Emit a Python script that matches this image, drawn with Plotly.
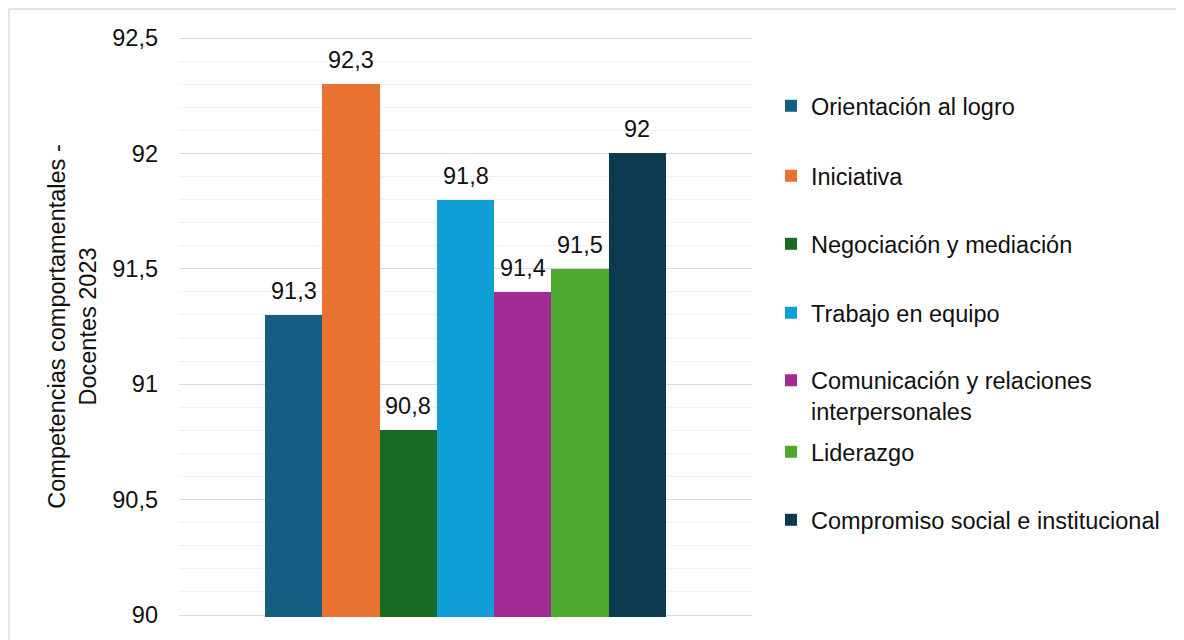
import plotly.graph_objects as go

categorias = [
    "Orientación al logro",
    "Iniciativa",
    "Negociación y mediación",
    "Trabajo en equipo",
    "Comunicación y relaciones interpersonales",
    "Liderazgo",
    "Compromiso social e institucional",
]
leyenda = [
    "Orientación al logro",
    "Iniciativa",
    "Negociación y mediación",
    "Trabajo en equipo",
    "Comunicación y relaciones<br>interpersonales",
    "Liderazgo",
    "Compromiso social e institucional",
]
valores = [91.3, 92.3, 90.8, 91.8, 91.4, 91.5, 92.0]
etiquetas = ["91,3", "92,3", "90,8", "91,8", "91,4", "91,5", "92"]
colores = ["#156082", "#E97132", "#196B24", "#0F9ED5", "#A02B93", "#4EA72E", "#0E3A50"]

ticks_y = [90, 90.5, 91, 91.5, 92, 92.5]
ticks_txt = ["90", "90,5", "91", "91,5", "92", "92,5"]
titulo_y = "Competencias comportamentales -<br>Docentes 2023"

# page has an 8px body margin; figure coordinates are offset by it
OFF = 8
W, H = 1184 - OFF, 640 - OFF
PADPX = 2  # extra pixels so the edge gridlines are not clipped
EPS = PADPX * 2.5 / 577
PW, PH = 573, 577 + 2 * PADPX
L, T = 179 - OFF, 38 - OFF - PADPX
R, B = W - L - PW, H - T - PH
FONT = "Liberation Sans, Arial, sans-serif"
FS = 23.5
TXT = "#111111"

# legend item centres (screen pixels from top)
leg_y_px = [106, 176, 244, 313, 396, 452, 520]

fig = go.Figure()
for i, (cat, v, c, name) in enumerate(zip(categorias, valores, colores, leyenda)):
    lg = "legend" if i == 0 else f"legend{i + 1}"
    fig.add_trace(go.Bar(
        x=[cat], y=[v], name=name, marker_color=c, marker_line_width=0,
        legend=lg, hoverinfo="skip",
    ))
    fig.add_annotation(
        x=cat, y=v, text=etiquetas[i], showarrow=False, yanchor="bottom",
        yshift=9, font=dict(family=FONT, size=FS, color=TXT),
    )

legends = {}
for i, ypx in enumerate(leg_y_px):
    key = "legend" if i == 0 else f"legend{i + 1}"
    legends[key] = dict(
        xref="container", yref="container",
        x=(811 - 40 - OFF) / W, y=1 - (ypx - OFF) / H,
        xanchor="left", yanchor="middle",
        font=dict(family=FONT, size=FS, color=TXT),
        bgcolor="rgba(0,0,0,0)", borderwidth=0,
        itemwidth=30, valign="top" if i == 4 else "middle",
        itemclick=False, itemdoubleclick=False,
    )

fig.update_layout(
    width=W, height=H,
    margin=dict(l=L, r=R, t=T, b=B, pad=0),
    paper_bgcolor="white", plot_bgcolor="white",
    barmode="overlay", bargap=0,
    showlegend=True,
    separators=",.",
    font=dict(family=FONT, size=FS, color=TXT),
    xaxis=dict(
        type="category", range=[-2, 8], showticklabels=False,
        showgrid=False, zeroline=False, showline=False, ticks="",
        fixedrange=True,
    ),
    yaxis=dict(
        range=[90 - EPS, 92.5 + EPS], tickvals=ticks_y, ticktext=ticks_txt,
        showgrid=True, gridcolor="#D9D9D9", gridwidth=1.3,
        minor=dict(tickvals=[90 + 0.1 * k for k in range(1, 25) if k % 5],
                   showgrid=True, gridcolor="#F0F0F0", gridwidth=1.3, ticks=""),
        zeroline=False, showline=False, ticks="",
        ticklabelstandoff=20,
        tickfont=dict(family=FONT, size=FS, color=TXT),
        title=dict(text=titulo_y, standoff=9,
                   font=dict(family=FONT, size=FS, color=TXT)),
        fixedrange=True,
    ),
    **legends,
)

# outer chart border
fig.add_shape(
    type="rect", xref="paper", yref="paper",
    x0=(9 - OFF - L) / PW, x1=(W + 40 - L) / PW,
    y0=-(B + 40) / PH, y1=(H - B - (9 - OFF)) / PH,
    line=dict(color="#D9D9D9", width=1.3), fillcolor="rgba(0,0,0,0)", layer="below",
)

fig.write_html("out.html")
